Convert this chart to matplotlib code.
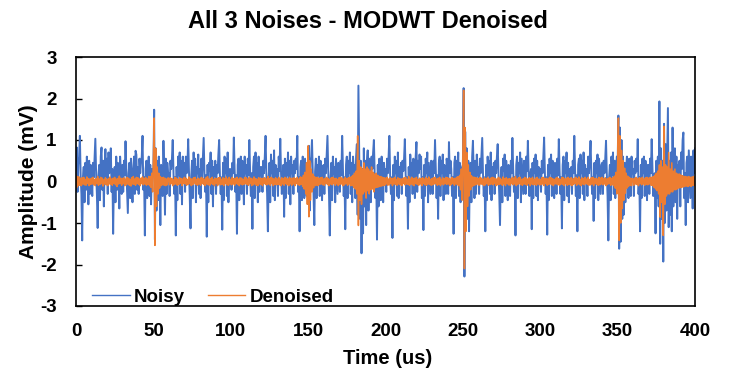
import numpy as np
import matplotlib
matplotlib.use("Agg")
import matplotlib.pyplot as plt

# ---------------- data (amplitude in mV, sampled every 0.5 us) ----------------
sample_step_us = 0.5
x_ticks = [0, 50, 100, 150, 200, 250, 300, 350, 400]
y_ticks = [-3, -2, -1, 0, 1, 2, 3]
series_names = ["Noisy", "Denoised"]

noisy_0_50 = [
    0.3, 0.82, -0.25, 0.4, 0.6, 1.1, 0.15, -0.3, -1.42, 0.1, 0.35, -0.5, 0.45, -0.2, 0.6, 0.25, -0.55, 0.5, -0.3, 0.4,
    0.2, -0.35, 0.45, 0.1, 0.55, 1.03, 0.2, -0.3, -1.12, 0.15, 0.4, -0.45, 0.6, 0.82, -0.2, 0.5, -0.6, 0.35, 0.78, 0.1,
    0.55, -0.3, 0.7, 0.2, 0.45, 0.8, -0.25, 0.3, -1.26, 0.1, 0.35, -0.5, 0.6, -0.2, 0.45, 0.15, -0.65, 0.6, 0.25, -0.3,
    0.4, -0.25, 0.5, 0.15, 0.97, 0.3, -0.2, -0.76, 0.2, 0.45, -0.4, 0.55, 0.1, -0.5, 0.3, 0.6, -0.3, 0.74, 0.65, -0.2,
    0.35, -0.3, 0.55, 0.2, 0.45, 0.6, 1.1, -0.2, 0.1, -1.3, 0.3, 0.5, -0.4, 0.25, 0.6, -0.35, 0.4, -0.55, 0.3, 0.15,
]
noisy_50_100 = [
    0.3, 1.73, -1.4, 0.8, -0.7, 0.5, -0.45, 0.6, 0.2, -1.05, 0.4, 0.1, -0.35, 0.98, 0.25, -0.8, 0.55, -0.3, 0.45, 0.2,
    0.2, -0.35, 0.5, 0.3, 0.55, 1.0, 0.2, -0.3, 0.1, -1.3, 0.35, -0.45, 0.6, 0.15, 0.7, -0.3, 0.5, -0.55, 0.6, 0.1,
    0.45, -0.25, 0.6, 0.2, 0.4, 1.02, 0.25, -0.35, -1.13, 0.15, 0.5, -0.4, 0.7, 0.1, 0.55, -0.5, 0.35, 0.2, 0.65, -0.3,
    0.3, -0.4, 0.55, 0.1, 0.6, 1.05, 0.2, -0.25, 0.15, -1.33, 0.4, -0.5, 0.45, 0.25, 0.7, -0.3, 0.5, -0.6, 0.35, 0.15,
    0.5, -0.3, 0.4, 0.2, 0.65, 1.0, 0.15, -0.3, 0.1, -1.16, 0.45, -0.45, 0.6, 0.2, 0.55, -0.35, 0.7, -0.5, 0.3, 0.1,
]
noisy_100_150 = [
    0.3, -0.2, 0.45, 0.2, 1.06, 0.3, -0.25, 0.15, -1.26, 0.4, 0.55, -0.45, 0.35, 0.6, -0.3, 0.5, 0.15, -0.55, 0.6, 0.2,
    0.4, -0.3, 0.55, 0.15, 1.0, 0.25, -0.35, 0.2, -1.14, 0.35, 0.6, -0.4, 0.7, 0.1, 0.45, -0.5, 0.6, -0.25, 0.35, 0.15,
    0.35, -0.25, 0.5, 0.2, 0.6, 1.1, 0.2, -0.3, -1.2, 0.1, 0.45, -0.5, 0.65, 0.2, 0.5, -0.35, 0.75, -0.45, 0.4, 0.1,
    0.3, -0.35, 0.6, 0.25, 1.03, 0.2, -0.3, 0.1, 0.4, -0.85, 0.55, -0.4, 0.45, 0.15, 0.7, -0.3, 0.5, -0.55, 0.6, 0.2,
    0.4, -0.3, 0.5, 0.2, 0.55, 0.3, 1.1, -0.25, 0.1, -1.2, 0.35, 0.5, -0.45, 0.6, 0.2, -0.4, 0.55, 0.1, -0.35, 0.4,
]
noisy_150_200 = [
    0.3, 0.86, -0.7, 0.45, 0.6, 1.0, 0.2, -0.3, -1.05, 0.25, 0.55, -0.4, 0.4, 0.15, 0.6, -0.35, 0.5, 0.2, -0.45, 0.35,
    0.4, -0.3, 0.55, 0.2, 0.65, 1.1, 0.25, -0.3, -1.3, 0.1, 0.45, -0.45, 0.6, 0.2, 0.35, -0.5, 0.55, 0.15, -0.3, 0.45,
    0.35, -0.25, 0.5, 0.15, 1.1, 0.3, -0.35, 0.1, -1.15, 0.4, 0.6, -0.4, 0.5, 0.2, 0.7, -0.3, 0.45, -0.5, 0.6, 0.3,
    0.4, -0.4, 0.6, 0.9, -0.8, 2.31, 0.7, -0.9, 0.5, -1.73, 0.3, -1.25, 0.8, -0.6, 0.5, -1.05, 0.45, 0.75, -0.7, 0.55,
    0.35, -0.5, 0.6, 0.3, 0.7, 1.0, 0.2, -0.4, 0.1, -1.4, 0.4, -0.6, 0.55, 0.3, -0.45, 0.6, 0.2, -0.5, 0.45, 0.15,
]
noisy_200_250 = [
    0.3, -0.25, 0.55, 0.2, 0.6, 1.1, 0.15, -0.3, 0.1, -1.36, 0.4, -0.45, 0.6, 0.2, 0.5, -0.35, 0.7, -0.4, 0.35, 0.1,
    0.45, -0.3, 0.5, 0.25, 0.55, 1.02, 0.2, -0.35, 0.1, -1.14, 0.35, -0.5, 0.65, 0.15, 0.45, -0.3, 0.55, 0.2, -0.4, 0.6,
    0.95, -0.25, 0.5, 0.2, 0.65, 0.3, 0.6, -0.4, 0.1, -1.17, 0.4, -0.35, 0.55, 0.2, 0.7, -0.5, 0.45, 0.1, -0.3, 0.5,
    0.35, -0.3, 0.5, 0.2, 1.0, 0.25, -0.4, 0.15, -0.9, 0.45, 0.6, -0.35, 0.5, 0.2, 0.65, -0.45, 0.4, 0.15, -0.3, 0.55,
    0.4, -0.3, 0.95, 0.2, 0.5, 0.3, -0.35, 0.1, -1.26, 0.45, 0.6, -0.4, 0.5, 0.15, 0.7, -0.35, 0.45, -0.5, 0.3, 0.35,
]
noisy_250_300 = [
    0.4, 2.25, -2.29, 1.2, -1.1, 0.8, -0.9, 0.5, -1.2, 0.3, 0.45, -0.5, 0.6, 0.98, 0.2, -0.4, 0.5, -0.3, 0.65, 0.15,
    0.35, -0.3, 0.55, 0.2, 0.6, 1.05, 0.2, -0.35, 0.1, -1.2, 0.4, -0.45, 0.6, 0.15, 0.5, -0.3, 0.7, -0.45, 0.35, 0.1,
    0.45, -0.3, 0.5, 0.2, 0.6, 0.9, 0.2, -0.3, -1.05, 0.1, 0.35, -0.5, 0.55, 0.25, 0.65, -0.35, 0.5, 0.15, -0.45, 0.4,
    0.3, -0.35, 0.5, 0.2, 1.05, 0.3, -0.25, 0.1, -1.3, 0.4, 0.6, -0.4, 0.45, 0.2, 0.7, -0.5, 0.55, 0.15, -0.3, 0.5,
    0.4, -0.3, 0.6, 0.25, 0.98, 0.2, -0.35, 0.15, 0.3, -1.15, 0.45, -0.4, 0.55, 0.2, 0.65, -0.35, 0.5, -0.45, 0.35, 0.2,
]
noisy_300_350 = [
    0.3, -0.25, 0.5, 0.2, 0.6, 1.06, 0.2, -0.3, 0.1, -1.28, 0.4, -0.45, 0.55, 0.2, 0.65, -0.35, 0.5, 0.15, -0.4, 0.45,
    0.4, -0.3, 0.55, 0.15, 1.02, 0.25, -0.3, 0.1, -1.13, 0.4, 0.6, -0.45, 0.5, 0.2, 0.7, -0.35, 0.45, -0.5, 0.3, 0.15,
    0.35, -0.3, 0.5, 0.2, 1.1, 0.3, -0.35, 0.15, -1.2, 0.4, 0.55, -0.4, 0.65, 0.2, 0.5, -0.3, 0.7, -0.45, 0.4, 0.1,
    0.3, -0.35, 0.6, 0.2, 0.55, 0.98, 0.25, -0.3, 0.1, -0.95, 0.45, -0.4, 0.5, 0.2, 0.65, -0.45, 0.55, 0.15, -0.3, 0.4,
    0.45, -0.3, 0.5, 0.2, 0.55, 0.98, 0.2, -0.35, -1.42, 0.1, 0.4, -0.45, 0.6, 0.15, 0.7, -0.3, 0.5, -0.4, 0.35, 0.6,
]
noisy_350_400 = [
    0.4, 1.59, -1.62, 1.3, -1.45, 1.0, -0.9, 0.6, -0.8, 0.45, -0.5, 0.3, 0.6, 0.2, -0.4, 0.55, 0.15, -0.35, 0.6, 0.2,
    0.3, -0.35, 0.5, 0.2, 0.55, 0.25, 1.02, -0.3, 0.1, -1.2, 0.4, -0.4, 0.55, 0.2, 0.6, -0.35, 0.5, 0.15, -0.45, 0.4,
    0.4, -0.3, 0.55, 0.2, 1.02, 0.3, -0.35, 0.1, 0.2, -1.25, 0.5, -0.4, 0.6, -0.6, 1.93, -1.5, 0.8, -0.9, 0.5, -1.93,
    1.39, -1.0, 0.9, -0.7, 0.6, 1.77, -1.1, 0.5, -0.8, 0.7, -1.2, 1.3, -0.6, 0.4, 0.8, -0.5, 0.6, -0.9, 0.4, 0.3,
    0.5, -0.6, 0.7, 0.3, 1.0, 1.18, -0.4, 0.2, -1.05, 0.45, 0.6, -0.5, 0.75, 0.2, -0.4, 0.6, 0.35, -0.65, 0.75, 0.2,
    0.8,
]

denoised_0_50 = [
    0.15, -0.14, 0.12, -0.1, 0.11, -0.09, 0.08, -0.1, 0.09, -0.06, 0.1, -0.08, 0.05, -0.09, 0.11, -0.05, 0.07, -0.1, 0.06, -0.07,
    0.08, -0.06, 0.1, -0.08, 0.05, -0.1, 0.07, -0.05, 0.12, -0.09, 0.06, -0.07, 0.1, -0.05, 0.08, -0.11, 0.04, -0.06, 0.09, -0.08,
    0.05, -0.1, 0.07, -0.06, 0.11, -0.07, 0.06, -0.09, 0.08, -0.04, 0.1, -0.08, 0.06, -0.12, 0.07, -0.06, 0.13, -0.05, 0.08, -0.09,
    0.07, -0.05, 0.09, -0.1, 0.06, -0.08, 0.1, -0.06, 0.08, -0.09, 0.05, -0.11, 0.09, -0.06, 0.12, -0.07, 0.06, -0.09, 0.1, -0.05,
    0.09, -0.07, 0.06, -0.1, 0.08, -0.05, 0.11, -0.08, 0.07, -0.06, 0.1, -0.09, 0.06, -0.07, 0.12, -0.1, 0.12, -0.14, 0.2, -0.25,
]
denoised_50_100 = [
    0.5, 1.53, -1.54, 0.8, -0.6, 0.35, -0.3, 0.2, -0.16, 0.12, -0.1, 0.09, -0.08, 0.1, -0.09, 0.08, -0.1, 0.06, -0.08, 0.09,
    0.06, -0.08, 0.09, -0.05, 0.07, -0.1, 0.04, -0.07, 0.1, -0.06, 0.08, -0.09, 0.05, -0.07, 0.09, -0.04, 0.07, -0.1, 0.06, -0.05,
    0.1, -0.06, 0.08, -0.09, 0.05, -0.07, 0.11, -0.05, 0.07, -0.1, 0.06, -0.08, 0.09, -0.04, 0.1, -0.07, 0.05, -0.09, 0.08, -0.06,
    0.06, -0.09, 0.1, -0.05, 0.08, -0.07, 0.05, -0.1, 0.09, -0.06, 0.12, -0.08, 0.06, -0.09, 0.07, -0.05, 0.1, -0.07, 0.05, -0.1,
    0.08, -0.05, 0.07, -0.1, 0.09, -0.06, 0.1, -0.08, 0.05, -0.07, 0.09, -0.1, 0.07, -0.05, 0.11, -0.08, 0.06, -0.09, 0.1, -0.06,
]
denoised_100_150 = [
    0.05, -0.08, 0.1, -0.06, 0.07, -0.09, 0.08, -0.05, 0.1, -0.07, 0.06, -0.1, 0.09, -0.06, 0.08, -0.08, 0.05, -0.07, 0.1, -0.05,
    0.09, -0.07, 0.06, -0.09, 0.1, -0.05, 0.08, -0.1, 0.06, -0.08, 0.11, -0.06, 0.07, -0.09, 0.05, -0.1, 0.09, -0.06, 0.08, -0.07,
    0.07, -0.1, 0.08, -0.05, 0.09, -0.07, 0.06, -0.08, 0.12, -0.06, 0.07, -0.09, 0.1, -0.05, 0.08, -0.1, 0.06, -0.07, 0.09, -0.08,
    0.06, -0.07, 0.1, -0.08, 0.05, -0.1, 0.09, -0.06, 0.07, -0.09, 0.1, -0.05, 0.08, -0.08, 0.06, -0.1, 0.1, -0.06, 0.07, -0.09,
    0.08, -0.06, 0.09, -0.1, 0.07, -0.05, 0.1, -0.08, 0.06, -0.09, 0.11, -0.07, 0.1, -0.12, 0.15, -0.18, 0.22, -0.3, 0.45, -0.55,
]
denoised_150_200 = [
    0.86, -0.85, 0.5, -0.45, 0.3, -0.25, 0.18, -0.15, 0.12, -0.1, 0.1, -0.09, 0.1, -0.1, 0.08, -0.07, 0.09, -0.06, 0.1, -0.08,
    0.06, -0.09, 0.08, -0.05, 0.1, -0.07, 0.07, -0.1, 0.05, -0.06, 0.09, -0.08, 0.1, -0.05, 0.07, -0.09, 0.08, -0.06, 0.05, -0.1,
    0.09, -0.07, 0.1, -0.06, 0.08, -0.1, 0.06, -0.08, 0.1, -0.05, 0.07, -0.09, 0.09, -0.06, 0.1, -0.1, 0.12, -0.1, 0.15, -0.14,
    0.2, -0.18, 0.25, -0.3, 1.1, -1.06, 0.5, -0.45, 0.35, -0.55, 0.3, -0.3, 0.45, -0.25, 0.3, -0.4, 0.35, -0.22, 0.3, -0.3,
    0.25, -0.2, 0.35, -0.18, 0.22, -0.25, 0.18, -0.15, 0.2, -0.14, 0.15, -0.13, 0.12, -0.12, 0.12, -0.11, 0.1, -0.1, 0.09, -0.09,
]
denoised_200_250 = [
    0.08, -0.06, 0.1, -0.09, 0.06, -0.08, 0.09, -0.05, 0.07, -0.1, 0.08, -0.06, 0.1, -0.07, 0.05, -0.09, 0.09, -0.06, 0.07, -0.08,
    0.06, -0.1, 0.07, -0.05, 0.09, -0.08, 0.1, -0.06, 0.05, -0.07, 0.12, -0.09, 0.06, -0.06, 0.1, -0.08, 0.07, -0.1, 0.08, -0.05,
    0.1, -0.07, 0.05, -0.09, 0.08, -0.06, 0.07, -0.1, 0.09, -0.05, 0.06, -0.08, 0.1, -0.09, 0.07, -0.06, 0.11, -0.07, 0.05, -0.09,
    0.07, -0.08, 0.09, -0.06, 0.1, -0.05, 0.06, -0.09, 0.08, -0.07, 0.1, -0.1, 0.05, -0.06, 0.09, -0.08, 0.07, -0.05, 0.1, -0.07,
    0.09, -0.06, 0.08, -0.1, 0.06, -0.07, 0.1, -0.05, 0.07, -0.09, 0.08, -0.06, 0.1, -0.08, 0.12, -0.1, 0.15, -0.2, 0.3, -0.45,
]
denoised_250_300 = [
    0.7, 2.2, -2.1, 1.3, -1.2, 0.7, -0.6, 0.4, -0.35, 0.22, -0.2, 0.14, -0.12, 0.11, -0.1, 0.1, -0.08, 0.09, -0.07, 0.08,
    0.06, -0.09, 0.1, -0.06, 0.08, -0.07, 0.05, -0.1, 0.09, -0.08, 0.07, -0.05, 0.1, -0.09, 0.06, -0.07, 0.08, -0.06, 0.1, -0.08,
    0.09, -0.05, 0.07, -0.1, 0.06, -0.08, 0.1, -0.07, 0.08, -0.06, 0.05, -0.09, 0.11, -0.06, 0.07, -0.1, 0.09, -0.05, 0.06, -0.08,
    0.07, -0.09, 0.06, -0.05, 0.1, -0.08, 0.08, -0.06, 0.12, -0.1, 0.06, -0.07, 0.09, -0.05, 0.1, -0.08, 0.05, -0.09, 0.07, -0.06,
    0.1, -0.07, 0.08, -0.09, 0.06, -0.05, 0.09, -0.1, 0.07, -0.06, 0.1, -0.08, 0.05, -0.07, 0.08, -0.09, 0.1, -0.06, 0.06, -0.08,
]
denoised_300_350 = [
    0.05, -0.08, 0.09, -0.06, 0.1, -0.1, 0.07, -0.05, 0.08, -0.09, 0.06, -0.07, 0.1, -0.06, 0.09, -0.08, 0.07, -0.1, 0.05, -0.06,
    0.08, -0.06, 0.1, -0.08, 0.07, -0.09, 0.05, -0.06, 0.1, -0.07, 0.09, -0.1, 0.06, -0.05, 0.08, -0.09, 0.1, -0.07, 0.07, -0.08,
    0.09, -0.1, 0.06, -0.07, 0.08, -0.05, 0.1, -0.09, 0.07, -0.06, 0.11, -0.08, 0.05, -0.1, 0.09, -0.06, 0.07, -0.08, 0.1, -0.05,
    0.06, -0.07, 0.1, -0.09, 0.05, -0.08, 0.09, -0.06, 0.1, -0.1, 0.07, -0.05, 0.08, -0.07, 0.06, -0.09, 0.1, -0.08, 0.08, -0.06,
    0.1, -0.08, 0.07, -0.06, 0.09, -0.1, 0.06, -0.07, 0.08, -0.05, 0.1, -0.09, 0.07, -0.08, 0.1, -0.1, 0.13, -0.16, 0.22, -0.3,
]
denoised_350_400 = [
    0.4, 1.53, -1.42, 1.1, -1.0, 0.75, -0.65, 0.5, -0.45, 0.32, -0.28, 0.2, -0.16, 0.13, -0.12, 0.1, -0.09, 0.08, -0.1, 0.07,
    0.06, -0.09, 0.08, -0.06, 0.1, -0.07, 0.07, -0.1, 0.09, -0.05, 0.08, -0.08, 0.1, -0.06, 0.06, -0.09, 0.09, -0.07, 0.1, -0.08,
    0.08, -0.06, 0.1, -0.09, 0.1, -0.1, 0.12, -0.14, 0.15, -0.18, 0.2, -0.22, 0.25, -0.3, 0.4, -0.86, 0.5, -0.5, 0.35, -1.3,
    1.33, -0.55, 0.4, -0.35, 0.35, -0.3, 0.7, -0.3, 0.3, -0.25, 0.45, -0.25, 0.25, -0.2, 0.3, -0.2, 0.2, -0.18, 0.18, -0.16,
    0.18, -0.15, 0.15, -0.14, 0.14, -0.13, 0.12, -0.12, 0.12, -0.11, 0.11, -0.12, 0.12, -0.1, 0.1, -0.12, 0.11, -0.09, 0.12, -0.1,
    0.1,
]

noisy = np.array(noisy_0_50 + noisy_50_100 + noisy_100_150 + noisy_150_200
                 + noisy_200_250 + noisy_250_300 + noisy_300_350 + noisy_350_400)
denoised = np.array(denoised_0_50 + denoised_50_100 + denoised_100_150 + denoised_150_200
                    + denoised_200_250 + denoised_250_300 + denoised_300_350 + denoised_350_400)
time_us = np.arange(len(noisy)) * sample_step_us

# ---------------- style ----------------
plt.rcParams['font.family'] = ['Liberation Sans', 'DejaVu Sans']
plt.rcParams['font.weight'] = 'bold'
plt.rcParams['axes.unicode_minus'] = False

BLUE = '#4472C4'
ORANGE = '#ED7D31'

fig = plt.figure(figsize=(7.36, 3.89), dpi=100)
ax = fig.add_axes([76 / 736, 1 - 306 / 389, (695 - 76) / 736, (306 - 57) / 389])

ax.plot(time_us, noisy, color=BLUE, lw=1.4, label=series_names[0])
ax.plot(time_us, denoised, color=ORANGE, lw=1.1, label=series_names[1])

ax.set_xlim(0, 400)
ax.set_ylim(-3, 3)
ax.set_xticks(x_ticks)
ax.set_yticks(y_ticks)
ax.tick_params(axis='x', length=0, pad=12, labelsize=13.5)
ax.tick_params(axis='y', direction='in', length=4, width=1, pad=14, labelsize=13.5)
for lab in ax.get_xticklabels() + ax.get_yticklabels():
    lab.set_fontweight('bold')
for sp in ax.spines.values():
    sp.set_color('black')
    sp.set_linewidth(1.2)

ax.set_xlabel('Time (us)', fontsize=14.5, fontweight='bold')
ax.set_ylabel('Amplitude (mV)', fontsize=15, fontweight='bold')
ax.xaxis.set_label_coords((388 - 76) / 619, (306 - 349) / 249)
ax.yaxis.set_label_coords((38 - 76) / 619, 0.5)

fig.text(0.5, 1 - 21 / 389, 'All 3 Noises - MODWT Denoised', ha='center', va='center',
         fontsize=17, fontweight='bold')

leg = ax.legend(loc='center left', bbox_to_anchor=((92 - 76) / 619, (306 - 297) / 249), ncol=2,
                frameon=False, borderaxespad=0, borderpad=0, handlelength=2.0,
                handletextpad=0.25, columnspacing=1.2, prop={'size': 13.5, 'weight': 'bold'})
for h in leg.get_lines():
    h.set_linewidth(1.0)

fig.savefig('out.png', dpi=100)
